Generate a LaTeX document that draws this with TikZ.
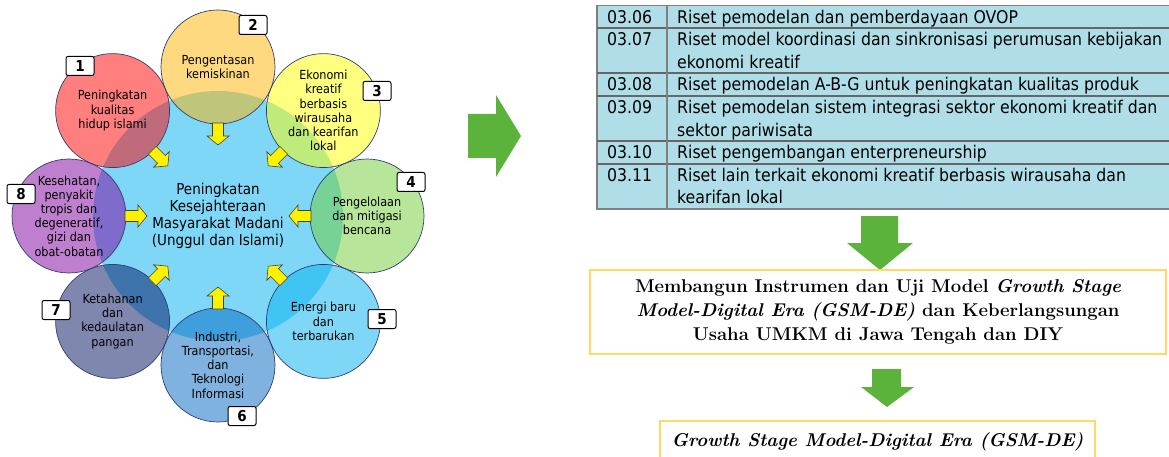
\documentclass[tikz,border=0pt]{standalone}
\usepackage{fontspec}
\newfontfamily\cond{DejaVu Sans Condensed}
\definecolor{cen}{HTML}{00B0F0}
\definecolor{cA}{HTML}{FF0000}
\definecolor{cB}{HTML}{FFB300}
\definecolor{cC}{HTML}{FFFF00}
\definecolor{cD}{HTML}{70CD35}
\definecolor{cE}{HTML}{00B0F0}
\definecolor{cF}{HTML}{0066C0}
\definecolor{cG}{HTML}{001060}
\definecolor{cH}{HTML}{8000A0}
\definecolor{ring}{HTML}{2F3F6F}
\definecolor{tblue}{HTML}{B0DEE8}
\definecolor{tline}{HTML}{808080}
\definecolor{gold}{HTML}{FFD966}
\definecolor{garrow}{HTML}{5BB33B}
\tikzset{
  small/.style={circle, minimum size=114pt, inner sep=0pt, fill=#1, fill opacity=0.5, text opacity=1, draw=ring, draw opacity=1, line width=0.7pt, align=center, font=\cond\fontsize{12.5}{14.2}\selectfont},
  numbox/.style={draw=black, line width=1pt, fill=white, rounded corners=2pt, minimum width=28pt, minimum height=19pt, inner sep=0pt, font=\cond\bfseries\fontsize{15}{15}\selectfont},
  tcell/.style={anchor=base west, inner sep=0pt, font=\cond\fontsize{17.5}{17.5}\selectfont},
  gbox/.style={draw=gold, line width=1.5pt},
  yarr/.style={fill=yellow, draw=black!75, line width=0.6pt, line join=miter},
  garr/.style={fill=garrow, draw=none}
}
\newcommand{\yarrowat}[1]{%
  \begin{scope}[shift={(218,216)}, rotate=#1]
    \filldraw[yarr] (93pt,-5.5pt) -- (80pt,-5.5pt) -- (80pt,-11pt) -- (71pt,0pt) -- (80pt,11pt) -- (80pt,5.5pt) -- (93pt,5.5pt) -- cycle;
  \end{scope}}
\begin{document}
\begin{tikzpicture}[x=1pt,y=-1pt]
\useasboundingbox (0,0) rectangle (1169,457);
\clip (0,0) rectangle (1169,457);
% ---------------- left diagram ----------------
\node[circle, minimum size=250pt, inner sep=0pt, fill=cen, fill opacity=0.5, text opacity=1, align=center,
      font=\cond\fontsize{15}{17}\selectfont] (center) at (218,216)
  {Peningkatan\\Kesejahteraan\\Masyarakat Madani\\(Unggul dan Islami)};
\node[small=cA] (c1) at (112.6,110.6) {Peningkatan\\kualitas\\hidup islami};
\node[small=cB] (c2) at (218,67) {Pengentasan\\kemiskinan};
\node[small=cC] (c3) at (323.4,110.6) {Ekonomi\\kreatif\\berbasis\\wirausaha\\dan kearifan\\lokal};
\node[small=cD] (c4) at (367,216) {Pengelolaan\\dan mitigasi\\bencana};
\node[small=cE] (c5) at (323.4,321.4) {Energi baru\\dan\\terbarukan};
\node[small=cF] (c6) at (218,365) {Industri,\\Transportasi,\\dan\\Teknologi\\Informasi};
\node[small=cG] (c7) at (112.6,321.4) {Ketahanan\\dan\\kedaulatan\\pangan};
\node[small=cH] (c8) at (69,216) {Kesehatan,\\penyakit\\tropis dan\\degeneratif,\\gizi dan\\obat-obatan};
\foreach \a in {0,45,...,315} {\yarrowat{\a}}
\node[numbox] (n1) at (80,66) {1};
\node[numbox] (n2) at (253,25) {2};
\node[numbox] (n3) at (377,91) {3};
\node[numbox] (n4) at (411,182) {4};
\node[numbox] (n5) at (382,319) {5};
\node[numbox] (n6) at (242,416) {6};
\node[numbox] (n7) at (56,310) {7};
\node[numbox] (n8) at (21,194) {8};
% ---------------- big right arrow ----------------
\fill[garr] (468,114) -- (496,114) -- (496,95) -- (521,136) -- (496,177) -- (496,158) -- (468,158) -- cycle;
% ---------------- table ----------------
\coordinate (tl) at (597,5.5);
\coordinate (br) at (1180,208.9);
\fill[tblue] (tl) rectangle (br);
\draw[tline, line width=1.5pt] (tl) rectangle (br);
\foreach \y in {28.1,73.3,95.9,141.1,163.7} {\draw[black!60, line width=1.8pt] (597,\y) -- (1180,\y);}
\draw[tline, line width=1.5pt] (667,5.5) -- (667,208.9);
\node[tcell] (k1) at (607,23.2) {03.06};
\node[tcell] (k2) at (607,45.8) {03.07};
\node[tcell] (k3) at (607,91.0) {03.08};
\node[tcell] (k4) at (607,113.6) {03.09};
\node[tcell] (k5) at (607,158.8) {03.10};
\node[tcell] (k6) at (607,181.4) {03.11};
\node[tcell] (r1) at (677,23.2) {Riset pemodelan dan pemberdayaan OVOP};
\node[tcell] (r2) at (677,45.8) {Riset model koordinasi dan sinkronisasi perumusan kebijakan};
\node[tcell] (r2b) at (677,68.4) {ekonomi kreatif};
\node[tcell] (r3) at (677,91.0) {Riset pemodelan A-B-G untuk peningkatan kualitas produk};
\node[tcell] (r4) at (677,113.6) {Riset pemodelan sistem integrasi sektor ekonomi kreatif dan};
\node[tcell] (r4b) at (677,136.2) {sektor pariwisata};
\node[tcell] (r5) at (677,158.8) {Riset pengembangan enterpreneurship};
\node[tcell] (r6) at (677,181.4) {Riset lain terkait ekonomi kreatif berbasis wirausaha dan};
\node[tcell] (r6b) at (677,204.0) {kearifan lokal};
% ---------------- down arrows and boxes ----------------
\fill[garr] (861,216) -- (898,216) -- (898,243) -- (913,243) -- (880,270) -- (847,243) -- (861,243) -- cycle;
\node[gbox, minimum width=576pt, minimum height=84pt, align=center, inner sep=0pt,
      font=\bfseries\fontsize{18.5}{24}\selectfont] (b1) at (878,312)
  {Membangun Instrumen dan Uji Model \textit{Growth Stage}\\
   \textit{Model-Digital Era (GSM-DE)} dan Keberlangsungan\\
   Usaha UMKM di Jawa Tengah dan DIY};
\fill[garr] (872,369) -- (901,369) -- (901,387) -- (914,387) -- (887,407) -- (861,387) -- (872,387) -- cycle;
\node[gbox, minimum width=435pt, minimum height=42pt, inner sep=0pt,
      font=\bfseries\itshape\fontsize{18.5}{24}\selectfont] (b2) at (877.5,442)
  {Growth Stage Model-Digital Era (GSM-DE)};
\end{tikzpicture}
\end{document}
